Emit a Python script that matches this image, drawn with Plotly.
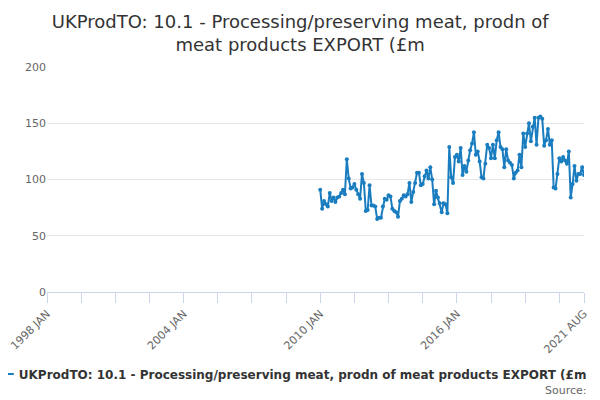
import plotly.graph_objects as go

# monthly categories 1998 JAN .. 2021 AUG
month_names = ["JAN", "FEB", "MAR", "APR", "MAY", "JUN",
               "JUL", "AUG", "SEP", "OCT", "NOV", "DEC"]
categories = [f"{y} {m}" for y in range(1998, 2022) for m in month_names]
categories = categories[:categories.index("2021 AUG") + 1]

# values from 2010 JAN onwards (earlier months have no data)
first_month = "2010 JAN"
values = [
    91, 74, 81, 78, 76, 88, 81, 84, 80, 84, 85, 88,        # 2010
    91, 87, 118, 101, 92, 93, 96, 91, 87, 83, 105, 97,     # 2011
    72, 73, 95, 77, 77, 76, 65, 66, 66, 76, 83, 82,        # 2012
    86, 85, 74, 72, 71, 67, 81, 83, 86, 85, 87, 97,        # 2013
    80, 89, 97, 106, 106, 95, 96, 103, 108, 101, 111, 100, # 2014
    78, 90, 84, 79, 71, 79, 78, 70, 129, 102, 97, 120,     # 2015
    122, 116, 128, 104, 112, 107, 117, 126, 132, 142, 122, 125,  # 2016
    116, 102, 101, 114, 131, 128, 119, 131, 119, 135, 142, 129,  # 2017
    127, 111, 127, 117, 115, 113, 101, 106, 108, 122, 111, 141,  # 2018
    129, 141, 150, 134, 147, 155, 131, 155, 156, 154, 130, 135,  # 2019
    145, 131, 135, 93, 92, 105, 119, 116, 120, 117, 114, 125,    # 2020
    84, 96, 112, 99, 105, 105, 111, 104,                         # 2021
]

# tick positions every 18 months, labels every 6 years plus the last month
label_ticks = ["1998 JAN", "2004 JAN", "2010 JAN", "2016 JAN", "2021 AUG"]
tick_vals = categories[::18] + ["2021 AUG"]
tick_text = [c if c in label_ticks else "" for c in tick_vals]

start = categories.index(first_month)
series = [None] * start + values

series_name = "UKProdTO: 10.1 - Processing/preserving meat, prodn of meat products EXPORT (£m"

fig = go.Figure()
fig.add_trace(go.Scatter(
    x=categories, y=series, mode="lines+markers", name="<b>" + series_name + "</b>",
    line=dict(color="#1a7dc0", width=2),
    marker=dict(color="#1a7dc0", size=4),
    connectgaps=False,
))

# the page body adds an 8px offset, so margins are set 8px smaller on the top/left
fig.update_layout(
    width=600, height=400,
    font=dict(family="DejaVu Sans", color="#666666", size=11),
    paper_bgcolor="white", plot_bgcolor="white",
    margin=dict(l=39, r=24, t=59, b=116, autoexpand=False),
    title=dict(
        text="UKProdTO: 10.1 - Processing/preserving meat, prodn of<br>meat products EXPORT (£m",
        x=0.487, xanchor="center", y=0.95, yanchor="middle",
        font=dict(size=18, color="#333333"),
    ),
    showlegend=True,
    legend=dict(
        orientation="h", x=-0.127, xanchor="left", y=-0.364, yanchor="middle",
        font=dict(size=12, color="#333333", family="DejaVu Sans"),
    ),
    annotations=[dict(
        text="Source:", xref="paper", yref="paper", x=1.0084, y=-0.436,
        xanchor="right", yanchor="middle", showarrow=False,
        font=dict(size=11, color="#666666"),
    )],
)

fig.update_xaxes(
    type="category", categoryorder="array", categoryarray=categories,
    range=[0, len(categories) - 1], automargin=False,
    tickmode="array", tickvals=tick_vals, ticktext=tick_text,
    tickangle=-45, ticks="outside", ticklen=10, tickcolor="#ccd6eb",
    showline=True, linecolor="#ccd6eb", showgrid=False,
    tickfont=dict(size=11, color="#666666"),
)
fig.update_yaxes(
    range=[0, 200], tickvals=[0, 50, 100, 150, 200], automargin=False,
    showgrid=True, gridcolor="#e6e6e6", zeroline=False,
    showline=False, tickfont=dict(size=11, color="#666666"),
)

fig.write_html("out.html")
